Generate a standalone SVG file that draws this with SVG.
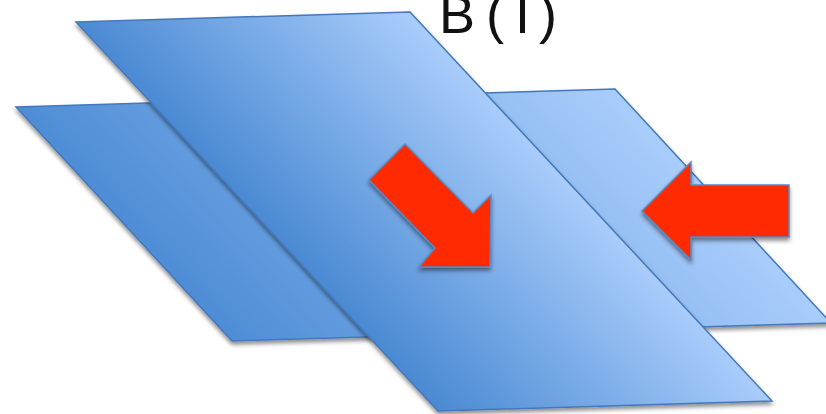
<svg xmlns="http://www.w3.org/2000/svg" width="826" height="414" viewBox="0 0 826 414">
  <defs>
    <linearGradient id="gBack" gradientUnits="userSpaceOnUse" x1="124" y1="224" x2="456" y2="-82">
      <stop offset="0" stop-color="#4e8dd6"/>
      <stop offset="1" stop-color="#a9cdfb"/>
    </linearGradient>
    <linearGradient id="gFront" gradientUnits="userSpaceOnUse" x1="257" y1="216" x2="441" y2="44">
      <stop offset="0" stop-color="#4b8ad3"/>
      <stop offset="1" stop-color="#a9cdfb"/>
    </linearGradient>
    <filter id="shadow" x="-10%" y="-10%" width="120%" height="125%">
      <feDropShadow dx="0" dy="3" stdDeviation="2.2" flood-color="#000" flood-opacity="0.45"/>
    </filter>
  </defs>
  <style>
    .plane { stroke: #4478bb; stroke-width: 1.5; stroke-linejoin: miter; filter: url(#shadow); }
    .arrow { fill: #ff2a00; stroke: #5a88c2; stroke-width: 1.5; stroke-linejoin: miter; filter: url(#shadow); }
    .label { font-family: "Liberation Sans", Arial, sans-serif; font-size: 54px; fill: #111; }
  </style>
  <rect width="826" height="414" fill="#ffffff"/>
  <g id="plane-back">
    <polygon class="plane" fill="url(#gBack)" points="16,107 615,89 831,323 232,341"/>
  </g>
  <g id="arrow-left">
    <polygon class="arrow" points="642,211 691,162 691,185 789,185 789,237 691,237 691,260"/>
  </g>
  <g id="plane-front">
    <polygon class="plane" fill="url(#gFront)" points="76,22 410,12 772,401 438,411"/>
  </g>
  <g id="arrow-diag">
    <polygon class="arrow" points="405,144 473,213 491,195 490,267 419,267 435,248 369,180"/>
  </g>
  <g id="label">
    <text class="label" x="439 475 486 515 539" y="33">B (I)</text>
  </g>
</svg>
